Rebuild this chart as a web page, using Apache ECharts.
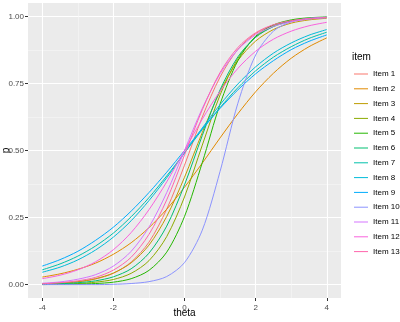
<!DOCTYPE html>
<html>
<head>
<meta charset="utf-8">
<script src="https://cdn.jsdelivr.net/npm/echarts@6/dist/echarts.min.js"></script>
<style>
  html, body { margin: 0; padding: 0; background: #fff; }
  #icc { width: 400px; height: 322px; }
</style>
</head>
<body>
<div id="icc"></div>
<script>
// theta grid the curves were read at
var theta = [-4, -3.5, -3, -2.5, -2, -1.5, -1, -0.5, 0, 0.5, 1, 1.5, 2, 2.5, 3, 3.5, 4];

var items = ['Item 1', 'Item 2', 'Item 3', 'Item 4', 'Item 5', 'Item 6', 'Item 7',
             'Item 8', 'Item 9', 'Item 10', 'Item 11', 'Item 12', 'Item 13'];

var item1  = [0.002, 0.005, 0.010, 0.021, 0.042, 0.084, 0.158, 0.281, 0.445, 0.625, 0.774, 0.877, 0.936, 0.968, 0.984, 0.992, 0.996];
var item2  = [0.028, 0.040, 0.057, 0.080, 0.113, 0.156, 0.212, 0.281, 0.363, 0.453, 0.547, 0.637, 0.719, 0.788, 0.844, 0.887, 0.920];
var item3  = [0.003, 0.006, 0.011, 0.022, 0.043, 0.081, 0.147, 0.254, 0.400, 0.567, 0.720, 0.835, 0.908, 0.951, 0.975, 0.987, 0.993];
var item4  = [0.001, 0.002, 0.004, 0.009, 0.019, 0.042, 0.089, 0.179, 0.327, 0.520, 0.707, 0.843, 0.923, 0.964, 0.983, 0.992, 0.997];
var item5  = [0.000, 0.001, 0.002, 0.004, 0.009, 0.022, 0.053, 0.121, 0.254, 0.455, 0.673, 0.835, 0.926, 0.968, 0.987, 0.995, 0.998];
var item6  = [0.001, 0.003, 0.007, 0.014, 0.029, 0.059, 0.117, 0.218, 0.372, 0.556, 0.726, 0.849, 0.922, 0.962, 0.982, 0.991, 0.996];
var item7  = [0.055, 0.077, 0.106, 0.144, 0.192, 0.253, 0.324, 0.405, 0.491, 0.578, 0.660, 0.734, 0.797, 0.848, 0.887, 0.918, 0.941];
var item8  = [0.046, 0.065, 0.092, 0.129, 0.177, 0.238, 0.313, 0.398, 0.491, 0.584, 0.671, 0.748, 0.812, 0.863, 0.901, 0.930, 0.951];
var item9  = [0.069, 0.093, 0.124, 0.165, 0.214, 0.274, 0.343, 0.419, 0.500, 0.581, 0.657, 0.726, 0.786, 0.835, 0.876, 0.907, 0.931];
var item10 = [0.000, 0.000, 0.000, 0.000, 0.001, 0.004, 0.011, 0.030, 0.082, 0.203, 0.422, 0.676, 0.856, 0.945, 0.980, 0.993, 0.997];
var item11 = [0.005, 0.010, 0.020, 0.037, 0.069, 0.124, 0.214, 0.343, 0.500, 0.657, 0.786, 0.876, 0.931, 0.963, 0.980, 0.990, 0.995];
var item12 = [0.022, 0.035, 0.055, 0.085, 0.130, 0.194, 0.279, 0.383, 0.500, 0.617, 0.721, 0.806, 0.870, 0.915, 0.945, 0.965, 0.978];
var item13 = [0.003, 0.007, 0.014, 0.027, 0.054, 0.102, 0.187, 0.316, 0.483, 0.652, 0.791, 0.884, 0.939, 0.969, 0.984, 0.992, 0.996];

var curves = [item1, item2, item3, item4, item5, item6, item7, item8, item9, item10, item11, item12, item13];

var xTicks = [-4, -2, 0, 2, 4];
var xMinor = [-3, -1, 1, 3];
var yTicks = [0, 0.25, 0.5, 0.75, 1];
var yMinor = [0.125, 0.375, 0.625, 0.875];

var colors = ['#F8766D', '#E18A00', '#BE9C00', '#8CAB00', '#24B700', '#00BE70', '#00C1AB',
              '#00BBDA', '#00ACFC', '#8B93FF', '#D575FE', '#F962DD', '#FF65AC'];

var font = 'Liberation Sans, Arial, sans-serif';

var chart = echarts.init(document.getElementById('icc'), null, { renderer: 'canvas' });

var series = items.map(function (name, k) {
    return {
        name: name,
        type: 'line',
        xAxisIndex: 0,
        yAxisIndex: 0,
        symbol: 'none',
        smooth: 0.3,
        lineStyle: { width: 1, color: colors[k] },
        itemStyle: { color: colors[k] },
        data: theta.map(function (t, i) { return [t, curves[k][i]]; })
    };
});

var option = {
    animation: false,
    backgroundColor: '#ffffff',
    color: colors,
    title: {
        text: 'item',
        left: 352,
        top: 52,
        padding: 0,
        textStyle: { fontFamily: font, fontSize: 10, fontWeight: 'normal', color: '#000' }
    },
    legend: {
        orient: 'vertical',
        left: 354,
        top: 67,
        padding: 0,
        width: 46,
        icon: 'rect',
        itemWidth: 14,
        itemHeight: 1,
        itemGap: 0.8,
        data: items,
        textStyle: { fontFamily: font, fontSize: 8, color: '#000', lineHeight: 14,
                     width: 36, overflow: 'none' }
    },
    grid: {
        left: 28,
        top: 3,
        right: 59,
        bottom: 24,
        outerBoundsMode: 'none',
        containLabel: false,
        show: true,
        backgroundColor: '#EBEBEB',
        borderWidth: 0
    },
    xAxis: [{
        type: 'value',
        min: -4.4,
        max: 4.4,
        position: 'bottom',
        name: 'theta',
        nameLocation: 'middle',
        nameGap: 10,
        nameMoveOverlap: false,
        nameTextStyle: { fontFamily: font, fontSize: 10, color: '#000' },
        axisLine: { show: false, onZero: false },
        axisTick: { show: true, length: 3, lineStyle: { color: '#333333' }, customValues: xTicks },
        axisLabel: { show: true, margin: 6, fontFamily: font, fontSize: 8, color: '#4D4D4D',
                     customValues: xTicks, formatter: function (v) { return String(v); } },
        splitLine: { show: true, lineStyle: { color: '#ffffff', width: 1.1 } }
    }, {
        type: 'value',
        min: -4.4,
        max: 4.4,
        position: 'bottom',
        axisLine: { show: false, onZero: false },
        axisTick: { show: false, customValues: xMinor },
        axisLabel: { show: false, customValues: xMinor },
        splitLine: { show: true, lineStyle: { color: '#F7F7F7', width: 0.6 } }
    }],
    yAxis: [{
        type: 'value',
        min: -0.05,
        max: 1.05,
        position: 'left',
        name: 'p',
        nameLocation: 'middle',
        nameGap: 17,
        nameMoveOverlap: false,
        nameTextStyle: { fontFamily: font, fontSize: 10, color: '#000' },
        axisLine: { show: false, onZero: false },
        axisTick: { show: true, length: 3, lineStyle: { color: '#333333' }, customValues: yTicks },
        axisLabel: { show: true, margin: 4, fontFamily: font, fontSize: 8, color: '#4D4D4D',
                     customValues: yTicks, formatter: function (v) { return v.toFixed(2); } },
        splitLine: { show: true, lineStyle: { color: '#ffffff', width: 1.1 } }
    }, {
        type: 'value',
        min: -0.05,
        max: 1.05,
        position: 'left',
        axisLine: { show: false, onZero: false },
        axisTick: { show: false, customValues: yMinor },
        axisLabel: { show: false, customValues: yMinor },
        splitLine: { show: true, lineStyle: { color: '#F7F7F7', width: 0.6 } }
    }],
    series: series
};

chart.setOption(option);
</script>
</body>
</html>
